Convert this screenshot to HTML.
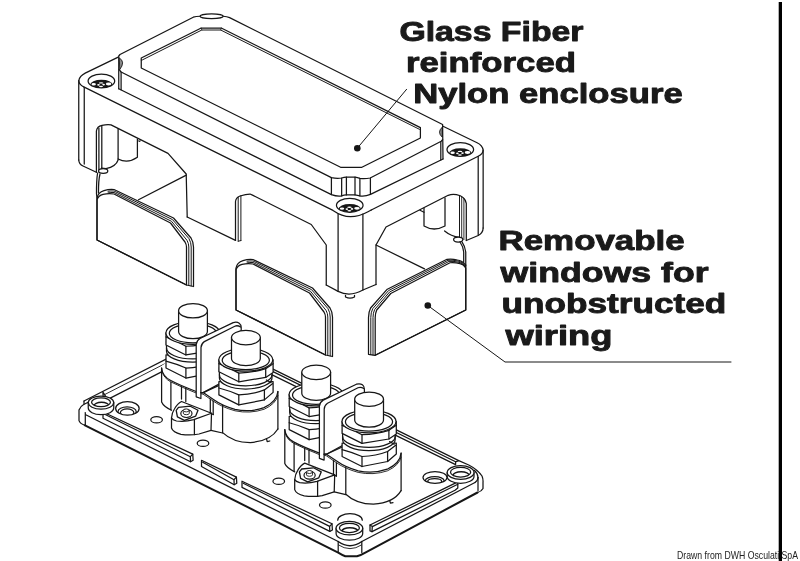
<!DOCTYPE html>
<html><head><meta charset="utf-8"><title>Enclosure drawing</title>
<style>
html,body{margin:0;padding:0;background:#fff;}
body{width:800px;height:561px;overflow:hidden;font-family:"Liberation Sans",sans-serif;}
svg{display:block;filter:grayscale(1);}
svg text{font-family:"Liberation Sans",sans-serif;}
</style></head><body>
<svg width="800" height="561" viewBox="0 0 800 561">
<rect x="0" y="0" width="800" height="561" fill="#ffffff"/>
<g fill="none" stroke="#161616" stroke-width="1.25" stroke-linecap="round" stroke-linejoin="round">
<path d="M84,401 L208.7,337.4 L458.75,460.6 L468.75,465 Q477.5,469.5 482,476 Q483.3,479 483,482.5 L483,488.5 Q481.5,491.5 477.5,492.5" fill="none"/>
<path d="M84,401 L84,404.2 Q80.2,406.3 79,410 L79,420.6 Q80,423.6 85,425.3" fill="none"/>
<path d="M84.2,404.2 L97,397.7" fill="none"/>
<path d="M85.30,412.50 L85.30,424.80" fill="none"/>
<path d="M85.75,414.75 L338.2,541.5" fill="none"/>
<path d="M85,425.3 L338.2,552.6 Q342,555 345.3,556.2 L357,556.2 Q361,555.2 365.3,552.6 L477.5,492.5" fill="none" stroke-width="2.0"/>
<path d="M338.20,541.50 L338.20,552.00" fill="none"/>
<path d="M361.80,541.50 L361.80,552.60" fill="none"/>
<path d="M338.2,541.5 Q350,550 361.8,541.5" fill="none"/>
<path d="M338.6,545 Q350,552.5 361.4,545" fill="none" stroke-width="0.9"/>
<path d="M361.8,541.5 L475,482.5" fill="none"/>
<path d="M475,482.5 Q478,480.5 478,477.5" fill="none"/>
<path d="M474.3,470.3 Q477.8,473.5 478,477.5" fill="none"/>
<path d="M478.00,477.50 L478.00,490.50" fill="none"/>
<path d="M103.00,412.00 L192.75,454.10 L193.15,460.30 L190.55,461.70 L103.00,418.20 L103.00,412.00 Z" fill="#ffffff"/>
<path d="M104.20,414.00 L190.35,456.70 L190.55,461.70" fill="none"/>
<path d="M190.35,456.70 L192.75,454.10" fill="none"/>
<path d="M201.50,460.25 L236.40,477.10 L236.80,483.30 L234.20,484.70 L201.50,466.45 L201.50,460.25 Z" fill="#ffffff"/>
<path d="M202.70,462.25 L234.00,479.70 L234.20,484.70" fill="none"/>
<path d="M234.00,479.70 L236.40,477.10" fill="none"/>
<path d="M242.00,481.20 L332.00,523.80 L332.40,530.00 L329.80,531.40 L242.00,487.40 L242.00,481.20 Z" fill="#ffffff"/>
<path d="M243.20,483.20 L329.60,526.40 L329.80,531.40" fill="none"/>
<path d="M329.60,526.40 L332.00,523.80" fill="none"/>
<path d="M370,525 L457.8,481.9 L457.8,488 L455,490.3 L372,531.6 L370,530.9 Z" fill="#ffffff"/>
<path d="M370,525 L372.3,526.6 L372,531.6 M372.3,526.6 L457.8,484.3" fill="none"/>
<path d="M104.6,394.6 L164.5,363.9" fill="none" stroke-width="0.9"/>
<path d="M102.9,392 L104.6,394.6 L107.3,399.6 L103.2,398.2 L102.9,392 M107.3,399.6 L164.5,370.4" fill="none"/>
<path d="M210,340.5 L455.6,461.8 L458.75,460.6 M212,345.5 L455.6,464.6 L455.6,461.8" fill="none"/>
<path d="M337.70,520.20 A12.30,6.50 0 0 1 362.30,520.20" fill="none"/>
<path d="M88.25,402.60 L88.25,408.10 A12.75,6.50 0 0 0 113.75,408.10 L113.75,402.60 Z" fill="#ffffff"/>
<ellipse cx="101.00" cy="402.60" rx="12.75" ry="6.50" fill="#ffffff"/>
<ellipse cx="101.00" cy="402.30" rx="9.45" ry="4.40" fill="#ffffff"/>
<clipPath id="rg101"><ellipse cx="101.00" cy="402.30" rx="9.45" ry="4.40"/></clipPath>
<g clip-path="url(#rg101)">
<ellipse cx="101.50" cy="405.80" rx="7.55" ry="3.50" fill="none" stroke-width="1.5"/>
</g>
<path d="M336.10,528.20 L336.10,533.50 A13.30,6.75 0 0 0 362.70,533.50 L362.70,528.20 Z" fill="#ffffff"/>
<ellipse cx="349.40" cy="528.20" rx="13.30" ry="6.75" fill="#ffffff"/>
<ellipse cx="349.40" cy="527.90" rx="10.00" ry="4.65" fill="#ffffff"/>
<clipPath id="rg349"><ellipse cx="349.40" cy="527.90" rx="10.00" ry="4.65"/></clipPath>
<g clip-path="url(#rg349)">
<ellipse cx="349.90" cy="531.40" rx="8.10" ry="3.75" fill="none" stroke-width="1.5"/>
</g>
<path d="M447.20,472.50 L447.20,476.40 A13.40,6.90 0 0 0 474.00,476.40 L474.00,472.50 Z" fill="#ffffff"/>
<ellipse cx="460.60" cy="472.50" rx="13.40" ry="6.90" fill="#ffffff"/>
<ellipse cx="460.60" cy="472.20" rx="10.10" ry="4.80" fill="#ffffff"/>
<clipPath id="rg460"><ellipse cx="460.60" cy="472.20" rx="10.10" ry="4.80"/></clipPath>
<g clip-path="url(#rg460)">
<ellipse cx="461.10" cy="475.70" rx="8.20" ry="3.90" fill="none" stroke-width="1.5"/>
</g>
<ellipse cx="127.40" cy="408.40" rx="11.75" ry="6.75" fill="#ffffff"/>
<clipPath id="ch127"><ellipse cx="127.40" cy="408.40" rx="11.75" ry="6.75"/></clipPath>
<g clip-path="url(#ch127)">
<ellipse cx="127.10" cy="411.80" rx="9.15" ry="4.95" fill="none"/>
<ellipse cx="127.10" cy="412.60" rx="6.75" ry="3.75" fill="none"/>
</g>
<ellipse cx="435.00" cy="477.40" rx="12.00" ry="5.90" fill="#ffffff"/>
<clipPath id="ch435"><ellipse cx="435.00" cy="477.40" rx="12.00" ry="5.90"/></clipPath>
<g clip-path="url(#ch435)">
<ellipse cx="434.70" cy="480.80" rx="9.40" ry="4.10" fill="none"/>
<ellipse cx="434.70" cy="481.60" rx="7.00" ry="2.90" fill="none"/>
</g>
<ellipse cx="156.60" cy="419.80" rx="5.80" ry="3.20" fill="none"/>
<ellipse cx="203.00" cy="443.20" rx="5.80" ry="3.20" fill="none"/>
<ellipse cx="278.75" cy="481.25" rx="5.80" ry="3.20" fill="none"/>
<ellipse cx="325.30" cy="505.00" rx="5.80" ry="3.20" fill="none"/>
<g transform="translate(0.00,0.00)">
<path d="M161.6,366 L161.6,402 Q163.5,406.5 171.5,410.3 L171.5,428 Q173,432.5 181,434.3 Q190.3,435.6 199,434 L211,430.4 L222.6,433 Q235,442.5 250.2,442.6 Q270,441 277.9,429 L277.9,392 L240,360 L190,345 Z" fill="#ffffff" stroke-width="0.01"/>
<path d="M161.6,368 L161.6,402 Q163.5,406.5 171.5,410.3" fill="none"/>
<path d="M161.6,368 Q162.4,376 170.3,380.3 Q180,385.5 196.2,391.5 L203.2,392.6 L213.8,399.7 Q222,405.6 235,409.3 Q250,412.6 264,407.6 Q277,401.6 277.9,391.5" fill="none"/>
<path d="M162.2,371.6 Q163.6,378 170.6,381.8 Q181,387 196.2,393 L203,394.1 L213.4,401.2 Q222,407.2 235,410.8 Q250,414 264.3,409.2 Q276,403.8 277.9,395.5" fill="none" stroke-width="0.9"/>
<path d="M277.90,391.50 L277.90,429.00" fill="none"/>
<path d="M222.6,405.4 L222.6,432.6 Q233,442.4 250.2,442.6 Q270.5,441.2 277.9,429" fill="none"/>
<path d="M266.6,439.2 l0.6,2.4 l2.6,-0.6" fill="none"/>
<path d="M170.90,382.00 L170.90,409.70" fill="none"/>
<path d="M181.50,386.60 L181.50,399.00" fill="none"/>
<path d="M185.80,388.20 L185.80,401.60" fill="none"/>
<path d="M210.30,399.00 L210.30,413.20" fill="none"/>
<path d="M213.20,401.20 L213.20,414.50" fill="none"/>
<path d="M213.2,414.5 L210.3,413.2" fill="none"/>
<path d="M171.5,418 Q172,412.5 174.4,409 Q177.5,403.5 181.5,401.5 L211.5,413.25 L211,430.3 L199,434 Q190.3,435.6 181,434.3 Q173,432.5 171.5,428 Z" fill="#ffffff"/>
<path d="M211.5,413.25 L193.8,419.7 Q184.4,422.3 176.5,421 Q172.6,420 171.5,418" fill="none"/>
<path d="M194.40,419.70 L194.40,434.60" fill="none"/>
<path d="M211,430.3 L222.6,433" fill="none"/>
<path d="M176.2,410.3 L178.5,407.4 L190.3,406.2 L198,410.3 L195.6,416.2 L184.4,420.3 L177.4,416.8 Z" fill="#ffffff" stroke-width="1.3"/>
<ellipse cx="186.40" cy="413.60" rx="5.60" ry="3.90" fill="none" stroke-width="1.2"/>
<path d="M183.3,410.4 L183.3,413.2 A3,1.5 0 0 0 189.3,413.2 L189.3,410.4" fill="#ffffff" stroke-width="0.9"/>
<ellipse cx="186.30" cy="410.40" rx="3.00" ry="1.50" fill="#ffffff" stroke-width="0.9"/>
<path d="M166.00,354.75 L166.00,368.05 L185.90,378.05 L211.50,373.05 L220.20,365.55 L220.20,354.75 Z" fill="#ffffff"/>
<path d="M166.00,361.15 Q176.00,363.75 185.90,368.05 Q200.00,367.55 211.50,363.05 L219.60,356.85" fill="none"/>
<path d="M185.90,368.05 L185.90,378.05" fill="none"/>
<path d="M211.50,363.05 L211.50,373.05" fill="none"/>
<path d="M166.50,340.75 L166.50,351.15 A26.3,11 0 0 0 219.10,351.15 L219.10,340.75 Z" fill="#ffffff"/>
<path d="M166.50,347.95 A26.3,11 0 0 0 219.10,347.95" fill="none"/>
<path d="M213.50,353.15 l4.6,2.6" fill="none"/>
<path d="M166.00,332.95 L166.00,344.95 L185.90,354.95 L212.80,350.55 L220.20,345.55 L220.20,332.95 Z" fill="#ffffff"/>
<path d="M166.00,336.85 Q175.50,340.35 185.90,346.25 Q200.50,345.75 212.80,341.85 L220.20,336.85" fill="none"/>
<path d="M185.90,346.25 L185.90,354.95" fill="none"/>
<path d="M212.80,341.85 L212.80,350.55" fill="none"/>
<ellipse cx="192.90" cy="332.95" rx="27.00" ry="11.40" fill="#ffffff"/>
<ellipse cx="192.90" cy="333.35" rx="23.60" ry="9.40" fill="none"/>
<path d="M178.60,310.75 L178.60,331.55 A14.4,7.2 0 0 0 207.40,331.55 L207.40,310.75 Z" fill="#ffffff"/>
<ellipse cx="193.00" cy="310.75" rx="14.40" ry="7.20" fill="#ffffff"/>
<path d="M196.2,396.8 L196.2,344.5 Q196.6,340.5 200,338.5 L233.2,322.6 Q236.8,321.5 239.2,323.2 Q241.2,324.6 241.2,327.6 L241.2,372 L203.2,392.6 L200.9,392.6 L200.9,398.5 Z" fill="#ffffff"/>
<path d="M200.9,392.6 L201,347.5 Q201.3,343.5 204.3,341.6 L234.8,326.2 Q237.6,325 240.6,327" fill="none"/>
<path d="M200.9,392.6 L203.2,392.6 L218.5,385.6" fill="none"/>
<path d="M218.90,381.60 L218.90,394.90 L238.80,404.90 L264.40,399.90 L273.10,392.40 L273.10,381.60 Z" fill="#ffffff"/>
<path d="M218.90,388.00 Q228.90,390.60 238.80,394.90 Q252.90,394.40 264.40,389.90 L272.50,383.70" fill="none"/>
<path d="M238.80,394.90 L238.80,404.90" fill="none"/>
<path d="M264.40,389.90 L264.40,399.90" fill="none"/>
<path d="M219.40,367.60 L219.40,378.00 A26.3,11 0 0 0 272.00,378.00 L272.00,367.60 Z" fill="#ffffff"/>
<path d="M219.40,374.80 A26.3,11 0 0 0 272.00,374.80" fill="none"/>
<path d="M266.40,380.00 l4.6,2.6" fill="none"/>
<path d="M218.90,359.80 L218.90,371.80 L238.80,381.80 L265.70,377.40 L273.10,372.40 L273.10,359.80 Z" fill="#ffffff"/>
<path d="M218.90,363.70 Q228.40,367.20 238.80,373.10 Q253.40,372.60 265.70,368.70 L273.10,363.70" fill="none"/>
<path d="M238.80,373.10 L238.80,381.80" fill="none"/>
<path d="M265.70,368.70 L265.70,377.40" fill="none"/>
<ellipse cx="245.80" cy="359.80" rx="27.00" ry="11.40" fill="#ffffff"/>
<ellipse cx="245.80" cy="360.20" rx="23.60" ry="9.40" fill="none"/>
<path d="M231.50,337.60 L231.50,358.40 A14.4,7.2 0 0 0 260.30,358.40 L260.30,337.60 Z" fill="#ffffff"/>
<ellipse cx="245.90" cy="337.60" rx="14.40" ry="7.20" fill="#ffffff"/>
</g>
<g transform="translate(123.20,61.60)">
<path d="M161.6,366 L161.6,402 Q163.5,406.5 171.5,410.3 L171.5,428 Q173,432.5 181,434.3 Q190.3,435.6 199,434 L211,430.4 L222.6,433 Q235,442.5 250.2,442.6 Q270,441 277.9,429 L277.9,392 L240,360 L190,345 Z" fill="#ffffff" stroke-width="0.01"/>
<path d="M161.6,368 L161.6,402 Q163.5,406.5 171.5,410.3" fill="none"/>
<path d="M161.6,368 Q162.4,376 170.3,380.3 Q180,385.5 196.2,391.5 L203.2,392.6 L213.8,399.7 Q222,405.6 235,409.3 Q250,412.6 264,407.6 Q277,401.6 277.9,391.5" fill="none"/>
<path d="M162.2,371.6 Q163.6,378 170.6,381.8 Q181,387 196.2,393 L203,394.1 L213.4,401.2 Q222,407.2 235,410.8 Q250,414 264.3,409.2 Q276,403.8 277.9,395.5" fill="none" stroke-width="0.9"/>
<path d="M277.90,391.50 L277.90,429.00" fill="none"/>
<path d="M222.6,405.4 L222.6,432.6 Q233,442.4 250.2,442.6 Q270.5,441.2 277.9,429" fill="none"/>
<path d="M266.6,439.2 l0.6,2.4 l2.6,-0.6" fill="none"/>
<path d="M170.90,382.00 L170.90,409.70" fill="none"/>
<path d="M181.50,386.60 L181.50,399.00" fill="none"/>
<path d="M185.80,388.20 L185.80,401.60" fill="none"/>
<path d="M210.30,399.00 L210.30,413.20" fill="none"/>
<path d="M213.20,401.20 L213.20,414.50" fill="none"/>
<path d="M213.2,414.5 L210.3,413.2" fill="none"/>
<path d="M171.5,418 Q172,412.5 174.4,409 Q177.5,403.5 181.5,401.5 L211.5,413.25 L211,430.3 L199,434 Q190.3,435.6 181,434.3 Q173,432.5 171.5,428 Z" fill="#ffffff"/>
<path d="M211.5,413.25 L193.8,419.7 Q184.4,422.3 176.5,421 Q172.6,420 171.5,418" fill="none"/>
<path d="M194.40,419.70 L194.40,434.60" fill="none"/>
<path d="M211,430.3 L222.6,433" fill="none"/>
<path d="M176.2,410.3 L178.5,407.4 L190.3,406.2 L198,410.3 L195.6,416.2 L184.4,420.3 L177.4,416.8 Z" fill="#ffffff" stroke-width="1.3"/>
<ellipse cx="186.40" cy="413.60" rx="5.60" ry="3.90" fill="none" stroke-width="1.2"/>
<path d="M183.3,410.4 L183.3,413.2 A3,1.5 0 0 0 189.3,413.2 L189.3,410.4" fill="#ffffff" stroke-width="0.9"/>
<ellipse cx="186.30" cy="410.40" rx="3.00" ry="1.50" fill="#ffffff" stroke-width="0.9"/>
<path d="M166.00,354.75 L166.00,368.05 L185.90,378.05 L211.50,373.05 L220.20,365.55 L220.20,354.75 Z" fill="#ffffff"/>
<path d="M166.00,361.15 Q176.00,363.75 185.90,368.05 Q200.00,367.55 211.50,363.05 L219.60,356.85" fill="none"/>
<path d="M185.90,368.05 L185.90,378.05" fill="none"/>
<path d="M211.50,363.05 L211.50,373.05" fill="none"/>
<path d="M166.50,340.75 L166.50,351.15 A26.3,11 0 0 0 219.10,351.15 L219.10,340.75 Z" fill="#ffffff"/>
<path d="M166.50,347.95 A26.3,11 0 0 0 219.10,347.95" fill="none"/>
<path d="M213.50,353.15 l4.6,2.6" fill="none"/>
<path d="M166.00,332.95 L166.00,344.95 L185.90,354.95 L212.80,350.55 L220.20,345.55 L220.20,332.95 Z" fill="#ffffff"/>
<path d="M166.00,336.85 Q175.50,340.35 185.90,346.25 Q200.50,345.75 212.80,341.85 L220.20,336.85" fill="none"/>
<path d="M185.90,346.25 L185.90,354.95" fill="none"/>
<path d="M212.80,341.85 L212.80,350.55" fill="none"/>
<ellipse cx="192.90" cy="332.95" rx="27.00" ry="11.40" fill="#ffffff"/>
<ellipse cx="192.90" cy="333.35" rx="23.60" ry="9.40" fill="none"/>
<path d="M178.60,310.75 L178.60,331.55 A14.4,7.2 0 0 0 207.40,331.55 L207.40,310.75 Z" fill="#ffffff"/>
<ellipse cx="193.00" cy="310.75" rx="14.40" ry="7.20" fill="#ffffff"/>
<path d="M196.2,396.8 L196.2,344.5 Q196.6,340.5 200,338.5 L233.2,322.6 Q236.8,321.5 239.2,323.2 Q241.2,324.6 241.2,327.6 L241.2,372 L203.2,392.6 L200.9,392.6 L200.9,398.5 Z" fill="#ffffff"/>
<path d="M200.9,392.6 L201,347.5 Q201.3,343.5 204.3,341.6 L234.8,326.2 Q237.6,325 240.6,327" fill="none"/>
<path d="M200.9,392.6 L203.2,392.6 L218.5,385.6" fill="none"/>
<path d="M218.90,381.60 L218.90,394.90 L238.80,404.90 L264.40,399.90 L273.10,392.40 L273.10,381.60 Z" fill="#ffffff"/>
<path d="M218.90,388.00 Q228.90,390.60 238.80,394.90 Q252.90,394.40 264.40,389.90 L272.50,383.70" fill="none"/>
<path d="M238.80,394.90 L238.80,404.90" fill="none"/>
<path d="M264.40,389.90 L264.40,399.90" fill="none"/>
<path d="M219.40,367.60 L219.40,378.00 A26.3,11 0 0 0 272.00,378.00 L272.00,367.60 Z" fill="#ffffff"/>
<path d="M219.40,374.80 A26.3,11 0 0 0 272.00,374.80" fill="none"/>
<path d="M266.40,380.00 l4.6,2.6" fill="none"/>
<path d="M218.90,359.80 L218.90,371.80 L238.80,381.80 L265.70,377.40 L273.10,372.40 L273.10,359.80 Z" fill="#ffffff"/>
<path d="M218.90,363.70 Q228.40,367.20 238.80,373.10 Q253.40,372.60 265.70,368.70 L273.10,363.70" fill="none"/>
<path d="M238.80,373.10 L238.80,381.80" fill="none"/>
<path d="M265.70,368.70 L265.70,377.40" fill="none"/>
<ellipse cx="245.80" cy="359.80" rx="27.00" ry="11.40" fill="#ffffff"/>
<ellipse cx="245.80" cy="360.20" rx="23.60" ry="9.40" fill="none"/>
<path d="M231.50,337.60 L231.50,358.40 A14.4,7.2 0 0 0 260.30,358.40 L260.30,337.60 Z" fill="#ffffff"/>
<ellipse cx="245.90" cy="337.60" rx="14.40" ry="7.20" fill="#ffffff"/>
</g>
<path d="M118.75,56.9 L85.2,73.1 Q79.6,76 78.8,80.5 Q78.9,84.6 83.75,86.9 L333,210.4 Q342,216.6 350.5,216.7 Q359,216.6 368,211.7 L371.25,210" fill="none"/>
<path d="M371.25,210 L478.2,156.2 Q483,154 483.15,150 Q482.4,145.4 477.1,142.8 L443,126.3" fill="none"/>
<path d="M78.75,80.50 L78.75,160.00" fill="none"/>
<path d="M84.25,87.30 L84.25,164.00" fill="none"/>
<path d="M483.15,150.00 L483.15,228.00" fill="none"/>
<path d="M478.20,156.40 L478.20,235.30" fill="none"/>
<path d="M338.10,214.00 L338.10,291.40" fill="none"/>
<path d="M362.90,214.00 L362.90,290.00" fill="none"/>
<path d="M78.75,160 Q79,164.2 83,166 L96.4,172.3" fill="none"/>
<path d="M187.20,217.00 L235.50,240.40" fill="none"/>
<path d="M326.25,285 L338.1,291.4 Q350,297.3 362.9,290 L376,284.5" fill="none"/>
<path d="M345.5,295.3 L345.5,297 Q350,299.3 354.5,297 L354.5,295.3" fill="none"/>
<path d="M483.15,228 Q483,233 478.2,235.5 L466.3,240.5" fill="none"/>
<path d="M96.4,172.3 L96.4,131 Q97,126.2 102,125.3 Q107,124.4 111,124.9 L168,153.4 L186.2,174 L187.2,217" fill="none"/>
<path d="M98.90,128.00 L98.90,172.00" fill="none"/>
<path d="M101.80,126.00 L101.80,169.00" fill="none"/>
<path d="M118.1,128.6 L118.1,160 Q116,166.5 106,168.6 L101.6,168" fill="none"/>
<ellipse cx="103.20" cy="171.00" rx="4.60" ry="2.30" fill="#ffffff"/>
<path d="M118.1,159 Q127.7,164 137.4,157.3 L137.4,139" fill="none"/>
<path d="M137.4,140.4 L140,141.7 L140,140.3" fill="none" stroke-width="0.9"/>
<path d="M186.30,175.10 L138.50,199.80" fill="none"/>
<path d="M235.5,240.4 L235.5,201.5 Q236,197.6 240,196 Q246,194 250,194 L252.5,195.1 L311.25,224.5 L326.25,245 L326.25,285" fill="none"/>
<path d="M238.20,197.20 L238.20,241.20" fill="none" stroke-width="1.0"/>
<path d="M240.90,195.80 L240.90,240.60" fill="none" stroke-width="1.0"/>
<path d="M238.2,241.2 L240.9,240.6" fill="none" stroke-width="1.0"/>
<path d="M376,284.5 L376,245 L386,227 L448.2,195.3 Q452,193.9 456.5,194.7 Q465,196.4 466.3,203.4 L466.3,240.3" fill="none"/>
<path d="M459.50,196.20 L459.50,237.30" fill="none" stroke-width="1.0"/>
<path d="M461.70,197.00 L461.70,238.60" fill="none" stroke-width="0.9"/>
<path d="M463.90,198.40 L463.90,239.60" fill="none" stroke-width="0.9"/>
<path d="M424,208 L424,226 Q434,232 445,226 L445,197.8" fill="none"/>
<path d="M444.6,231 Q451,236.4 459.5,237.3" fill="none"/>
<ellipse cx="458.20" cy="239.60" rx="4.60" ry="2.50" fill="#ffffff"/>
<path d="M420,210.3 L424,212.3" fill="none"/>
<path d="M376.00,245.00 L424.50,268.90" fill="none"/>
<clipPath id="sc101"><ellipse cx="101.40" cy="81.00" rx="13.1" ry="6.9"/></clipPath>
<ellipse cx="101.40" cy="81.00" rx="13.30" ry="6.95" fill="#ffffff"/>
<g clip-path="url(#sc101)" stroke="none">
<ellipse cx="101.40" cy="84.90" rx="11.30" ry="5.10" fill="#161616"/>
<ellipse cx="93.70" cy="84.30" rx="2.20" ry="1.20" fill="#ffffff"/>
<ellipse cx="108.60" cy="84.00" rx="2.80" ry="1.40" fill="#ffffff"/>
<ellipse cx="101.10" cy="82.90" rx="2.30" ry="0.70" fill="#ffffff"/>
<ellipse cx="98.50" cy="84.80" rx="1.30" ry="0.90" fill="#ffffff"/>
<ellipse cx="103.60" cy="84.60" rx="1.30" ry="0.90" fill="#ffffff"/>
<ellipse cx="101.00" cy="86.50" rx="2.00" ry="0.80" fill="#ffffff"/>
</g>
<clipPath id="sc460"><ellipse cx="460.30" cy="149.50" rx="13.1" ry="6.9"/></clipPath>
<ellipse cx="460.30" cy="149.50" rx="13.30" ry="6.95" fill="#ffffff"/>
<g clip-path="url(#sc460)" stroke="none">
<ellipse cx="460.30" cy="153.40" rx="11.30" ry="5.10" fill="#161616"/>
<ellipse cx="452.60" cy="152.80" rx="2.20" ry="1.20" fill="#ffffff"/>
<ellipse cx="467.50" cy="152.50" rx="2.80" ry="1.40" fill="#ffffff"/>
<ellipse cx="460.00" cy="151.40" rx="2.30" ry="0.70" fill="#ffffff"/>
<ellipse cx="457.40" cy="153.30" rx="1.30" ry="0.90" fill="#ffffff"/>
<ellipse cx="462.50" cy="153.10" rx="1.30" ry="0.90" fill="#ffffff"/>
<ellipse cx="459.90" cy="155.00" rx="2.00" ry="0.80" fill="#ffffff"/>
</g>
<clipPath id="sc349"><ellipse cx="349.75" cy="205.30" rx="13.1" ry="6.9"/></clipPath>
<ellipse cx="349.75" cy="205.30" rx="13.30" ry="6.95" fill="#ffffff"/>
<g clip-path="url(#sc349)" stroke="none">
<ellipse cx="349.75" cy="209.20" rx="11.30" ry="5.10" fill="#161616"/>
<ellipse cx="342.05" cy="208.60" rx="2.20" ry="1.20" fill="#ffffff"/>
<ellipse cx="356.95" cy="208.30" rx="2.80" ry="1.40" fill="#ffffff"/>
<ellipse cx="349.45" cy="207.20" rx="2.30" ry="0.70" fill="#ffffff"/>
<ellipse cx="346.85" cy="209.10" rx="1.30" ry="0.90" fill="#ffffff"/>
<ellipse cx="351.95" cy="208.90" rx="1.30" ry="0.90" fill="#ffffff"/>
<ellipse cx="349.35" cy="210.80" rx="2.00" ry="0.80" fill="#ffffff"/>
</g>
<path d="M118.75,56 L120,54.5 L193.25,17.2 Q196,16.3 200,16.25 L223.25,16.25 Q227,16.4 229.6,17.6 L442.6,124.4 L443,159 L371,194.4 L362,196.4 L340,196.4 L330,194 L118.75,88.75 Z" fill="#ffffff" stroke-width="0.01"/>
<ellipse cx="211.60" cy="16.25" rx="11.60" ry="2.40" fill="#ffffff"/>
<path d="M118.75,88.75 L118.75,56 L120,54.5 L193.25,17.2 Q196,16.3 200,16.25" fill="none"/>
<path d="M223.25,16.25 Q227,16.4 229.6,17.6 L442.6,124.5 L443,159" fill="none"/>
<path d="M121.10,72.00 L121.10,89.80" fill="none"/>
<path d="M440.80,141.50 L440.80,160.00" fill="none"/>
<path d="M119.6,58.1 Q122.6,60 122.6,62.8 Q122.6,66 120,69.2 Z" fill="#8a8a8a" stroke-width="0.9"/>
<path d="M441.9,127.5 Q439.5,129.8 439.5,132.2 Q439.5,134.6 441.9,136.8 Z" fill="#8a8a8a" stroke-width="0.9"/>
<path d="M119.2,69.6 L121.1,72 L331.4,177.6 Q337,178.9 341.65,178 Q344,177.3 346.4,177.1 L355,177.2 Q357.5,177.6 359.9,178.4 Q365,179 370.2,178 L441.2,141.3 L442.6,139.8" fill="none"/>
<path d="M118.75,88.75 L331.4,194.6 Q337,196.6 341.65,195.9 Q344,195.1 346.4,194.9 L355,194.9 Q357.5,195.2 359.9,195.9 Q365,196.7 370.5,194.4 L443,159" fill="none"/>
<path d="M331.40,177.60 L331.40,194.60" fill="none"/>
<path d="M341.65,178.00 L341.65,195.90" fill="none"/>
<path d="M346.40,177.10 L346.40,194.90" fill="none"/>
<path d="M355.00,177.20 L355.00,194.90" fill="none"/>
<path d="M359.90,178.40 L359.90,195.90" fill="none"/>
<path d="M370.40,178.00 L370.40,194.40" fill="none"/>
<path d="M141.25,68 L141.25,58 L201.25,28 L221.25,28 L420.4,127.6 L420.4,138 L361.9,167.25 L340.6,167.25 Z" fill="none"/>
<path d="M141.25,60 L142.2,60 L201.8,30 L220.7,30 L419.6,129.4 L420.4,129.4" fill="none" stroke-width="1.0"/>
<path d="M201.25,28 L201.8,30 M221.25,28 L220.7,30" fill="none" stroke-width="0.8"/>
<g transform="translate(0.00,0.00)">
<path d="M97,240 L97,198 Q98,192.5 104,190.6 Q109,189 114,189.5 L173.5,218 L191,238 Q193.5,242 193.5,247 L193.5,286.5 L186.5,285 Z" fill="#ffffff"/>
<path d="M97,240 L97,199.5 Q98.5,195.5 103,194.3 Q109,193 114,194 L170.5,223 L185,242 Q186.5,244.5 186.5,247 L186.5,285 Z" fill="none"/>
<path d="M108,191.2 Q111,190.8 114,191 L172.5,219.6 L189,238.7 Q191.2,242.5 191.2,247 L191.2,286" fill="none" stroke-width="1.0"/>
<path d="M108,192.9 Q111,192.3 114,192.5 L171.5,221.3 L187,240.3 Q188.8,243.5 188.8,247 L188.8,285.6" fill="none" stroke-width="1.0"/>
</g>
<g transform="translate(139.00,70.00)">
<path d="M97,240 L97,198 Q98,192.5 104,190.6 Q109,189 114,189.5 L173.5,218 L191,238 Q193.5,242 193.5,247 L193.5,286.5 L186.5,285 Z" fill="#ffffff"/>
<path d="M97,240 L97,199.5 Q98.5,195.5 103,194.3 Q109,193 114,194 L170.5,223 L185,242 Q186.5,244.5 186.5,247 L186.5,285 Z" fill="none"/>
<path d="M108,191.2 Q111,190.8 114,191 L172.5,219.6 L189,238.7 Q191.2,242.5 191.2,247 L191.2,286" fill="none" stroke-width="1.0"/>
<path d="M108,192.9 Q111,192.3 114,192.5 L171.5,221.3 L187,240.3 Q188.8,243.5 188.8,247 L188.8,285.6" fill="none" stroke-width="1.0"/>
</g>
<path d="M97.6,173 Q96.4,180 96.5,194 L97,198" fill="none"/>
<path d="M100,174 Q98.4,180 98.5,193" fill="none"/>
<path d="M465.75,310 L465.75,265 Q462,260.6 457.5,260 Q452,258.6 447,259.3 L387.3,289.2 L370.6,308 Q368.5,312 368.5,317.5 L368.5,354.3 L375.2,355.3 Z" fill="#ffffff"/>
<path d="M465.75,310 L465.75,268 Q463.5,264.3 460,263.7 Q455,262.3 450,262.75 L390.75,293.5 L376.7,310 Q375.2,313.5 375.2,317.5 L375.2,355.3 Z" fill="none"/>
<path d="M465.5,266.8 Q463,262.8 459,262.3 Q454,261 449,261.4 L389.6,292 L374.7,309.4 Q373,313 373,317.5 L373,355" fill="none" stroke-width="1.0"/>
<path d="M465.5,265.8 Q462.6,261.7 458,261 Q453,259.8 448,260.3 L388.5,290.6 L372.7,308.7 Q370.8,312.5 370.8,317.5 L370.8,354.7" fill="none" stroke-width="1.0"/>
<path d="M462,241.8 Q465,246 465.75,252 L465.75,266" fill="none"/>
<path d="M460,242 Q463.2,246.5 463.7,252 L463.7,262.5" fill="none"/>
<path d="M357.30,148.20 L406.60,89.30" fill="none" stroke-width="1.0"/>
<circle cx="357.3" cy="148.2" r="3.3" fill="#161616" stroke="none"/>
<path d="M427.8,305.5 L505,362 L731,362" fill="none" stroke-width="1.0"/>
<circle cx="427.8" cy="305.5" r="3.3" fill="#161616" stroke="none"/>
<rect x="778.7" y="2" width="3.3" height="560" fill="#000" stroke="none"/>
<text x="399.40" y="41.40" textLength="184.10" lengthAdjust="spacingAndGlyphs" font-size="27.2" font-weight="700" fill="#1a1a1a" stroke="#1a1a1a" stroke-width="0.9" stroke-linejoin="round">Glass Fiber</text>
<text x="406.00" y="72.20" textLength="170.00" lengthAdjust="spacingAndGlyphs" font-size="27.2" font-weight="700" fill="#1a1a1a" stroke="#1a1a1a" stroke-width="0.9" stroke-linejoin="round">reinforced</text>
<text x="413.20" y="103.20" textLength="269.50" lengthAdjust="spacingAndGlyphs" font-size="27.2" font-weight="700" fill="#1a1a1a" stroke="#1a1a1a" stroke-width="0.9" stroke-linejoin="round">Nylon enclosure</text>
<text x="498.50" y="249.90" textLength="186.20" lengthAdjust="spacingAndGlyphs" font-size="27.0" font-weight="700" fill="#1a1a1a" stroke="#1a1a1a" stroke-width="0.9" stroke-linejoin="round">Removable</text>
<text x="500.60" y="281.70" textLength="208.00" lengthAdjust="spacingAndGlyphs" font-size="27.0" font-weight="700" fill="#1a1a1a" stroke="#1a1a1a" stroke-width="0.9" stroke-linejoin="round">windows for</text>
<text x="501.60" y="313.00" textLength="224.60" lengthAdjust="spacingAndGlyphs" font-size="27.0" font-weight="700" fill="#1a1a1a" stroke="#1a1a1a" stroke-width="0.9" stroke-linejoin="round">unobstructed</text>
<text x="505.40" y="345.10" textLength="107.00" lengthAdjust="spacingAndGlyphs" font-size="27.0" font-weight="700" fill="#1a1a1a" stroke="#1a1a1a" stroke-width="0.9" stroke-linejoin="round">wiring</text>
<text x="677" y="559" font-size="10.3" fill="#222" stroke="none" textLength="121" lengthAdjust="spacingAndGlyphs">Drawn from DWH Osculati SpA</text>
</g>
</svg>
</body></html>
